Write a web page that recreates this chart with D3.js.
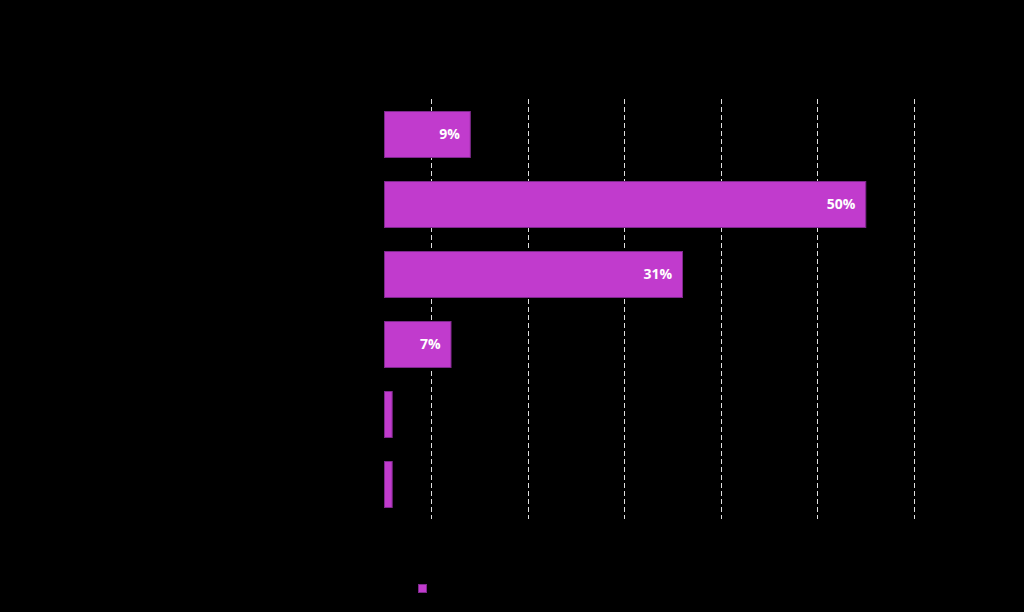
<!DOCTYPE html>
<html>
<head>
<meta charset="utf-8">
<script src="https://cdn.jsdelivr.net/npm/d3@7"></script>
<style>
html,body{margin:0;padding:0;background:#000;}
svg{display:block;}
</style>
</head>
<body>
<svg id="chart" width="1024" height="612"></svg>
<script>
const categories = ["A", "B", "C", "D", "E", "F"];
const values = [9, 50, 31, 7, 0.9, 0.9];
const gridTicks = [5, 15, 25, 35, 45, 55];

const svg = d3.select("#chart");
svg.append("rect").attr("width", 1024).attr("height", 612).attr("fill", "#000");

const x = d3.scaleLinear().domain([0, 55]).range([383, 913.5]);
const y = d3.scaleBand().domain(categories).range([99, 519]).paddingInner(0.343).paddingOuter(0.1715);

// gridlines
svg.append("g").selectAll("line").data(gridTicks).join("line")
  .attr("x1", d => Math.round(x(d)) + 0.5).attr("x2", d => Math.round(x(d)) + 0.5)
  .attr("y1", 99).attr("y2", 519)
  .attr("stroke", "#e0e0e0").attr("stroke-width", 1)
  .attr("stroke-dasharray", "5,3");

// invisible (black) tick labels
svg.append("g").selectAll("text").data(gridTicks).join("text")
  .attr("x", d => x(d)).attr("y", 540).attr("text-anchor", "middle")
  .attr("font-family", "Open Sans").attr("font-size", 12).attr("fill", "#000")
  .text(d => d + "%");

// bars
svg.append("g").selectAll("rect").data(values).join("rect")
  .attr("x", x(0) + 1.5)
  .attr("y", (d, i) => y(categories[i]) + 0.5)
  .attr("width", d => x(d) - x(0) - 1)
  .attr("height", y.bandwidth())
  .attr("fill", "#c13bcd")
  .attr("stroke", "#7e2a8c").attr("stroke-width", 1);

// value labels
svg.append("g").selectAll("text").data(values.map((v, i) => ({v, c: categories[i]}))).join("text")
  .filter(d => d.v >= 5)
  .attr("x", d => x(d.v) - 10)
  .attr("y", d => y(d.c) + y.bandwidth() / 2)
  .attr("dy", "0.36em")
  .attr("text-anchor", "end")
  .attr("font-family", "Open Sans").attr("font-weight", "bold").attr("font-size", 14)
  .attr("fill", "#ffffff")
  .text(d => d.v + "%");

// legend swatch
svg.append("rect").attr("x", 418.5).attr("y", 584.5).attr("width", 8).attr("height", 8)
  .attr("fill", "#c13bcd").attr("stroke", "#7e2a8c");
</script>
</body>
</html>
